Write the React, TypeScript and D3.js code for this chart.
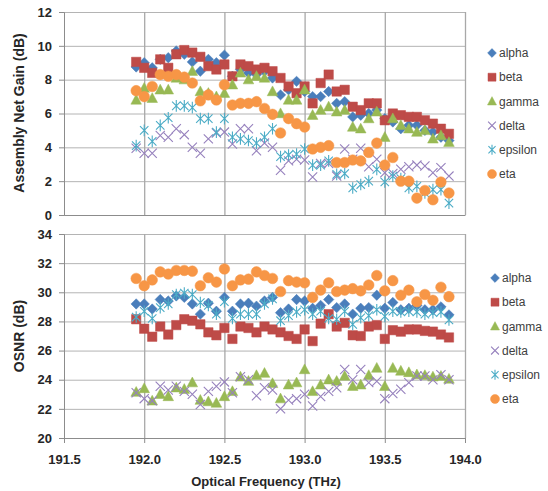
import React, { useEffect, useRef } from 'react';
import * as d3 from 'd3';

// channel frequencies (THz)
const freqs = [
  191.95, 192.0, 192.05, 192.1, 192.15, 192.2, 192.25, 192.3, 192.35, 192.4,
  192.45, 192.5, 192.55, 192.6, 192.65, 192.7, 192.75, 192.8, 192.85, 192.9,
  192.95, 193.0, 193.05, 193.1, 193.15, 193.2, 193.25, 193.3, 193.35, 193.4,
  193.45, 193.5, 193.55, 193.6, 193.65, 193.7, 193.75, 193.8, 193.85, 193.9,
];

const seriesNames = ['alpha', 'beta', 'gamma', 'delta', 'epsilon', 'eta'];
const freqTicks = [191.5, 192.0, 192.5, 193.0, 193.5, 194.0];
const gainTicks = [0, 2, 4, 6, 8, 10, 12];
const osnrTicks = [20, 22, 24, 26, 28, 30, 32, 34];

// assembly net gain (dB)
const gainAlpha = [8.75, 9.0, 8.7, 9.2, 9.3, 9.7, 9.5, 9.05, 8.5, 9.2, 9.0, 9.45, 8.2, 8.6, 8.4, 8.3, 8.5, 8.1, 7.1, 7.4, 7.9, 7.3, 7.0, 7.0, 7.3, 6.6, 6.7, 5.8, 5.9, 6.0, 6.2, 5.7, 5.5, 5.1, 5.3, 5.3, 5.0, 4.9, 4.6, 4.4];
const gainBeta = [9.05, 8.7, 8.4, 9.2, 8.7, 9.5, 9.75, 9.6, 9.35, 8.8, 8.6, 8.9, 8.2, 8.9, 8.8, 8.6, 8.7, 8.5, 8.1, 7.6, 7.2, 7.6, 6.6, 7.8, 8.3, 7.3, 7.4, 6.4, 6.2, 6.6, 6.6, 5.6, 6.0, 5.9, 5.8, 5.8, 5.6, 5.4, 5.1, 4.8];
const gainGamma = [6.8, 7.5, 6.9, 7.4, 7.4, 8.1, 8.0, 8.5, 7.3, 7.2, 7.0, 7.2, 7.7, 8.4, 8.0, 8.2, 8.1, 7.3, 6.0, 6.8, 6.8, 7.4, 5.9, 6.2, 6.4, 6.1, 6.2, 5.2, 5.1, 5.7, 6.1, 4.6, 5.7, 5.3, 5.1, 4.9, 5.0, 4.5, 4.7, 4.3];
const gainDelta = [3.95, 3.65, 3.65, 4.7, 4.6, 5.1, 4.75, 4.0, 3.65, 4.5, 4.85, 4.9, 4.2, 5.1, 5.1, 3.8, 4.25, 4.0, 2.65, 3.2, 3.3, 3.25, 2.25, 3.05, 3.05, 2.3, 3.9, 3.3, 3.95, 2.85, 3.3, 2.5, 2.45, 2.7, 2.85, 2.95, 2.9, 2.5, 2.8, 2.3];
const gainEpsilon = [4.1, 5.0, 4.35, 5.3, 5.75, 6.45, 6.45, 6.35, 5.7, 5.7, 4.9, 5.7, 4.6, 4.5, 4.4, 4.25, 4.6, 5.1, 3.45, 3.55, 3.6, 3.9, 2.95, 2.95, 3.2, 2.4, 2.45, 1.6, 1.8, 2.0, 2.7, 1.95, 2.3, 2.15, 1.6, 1.7, 1.3, 1.5, 1.5, 0.7];
const gainEta = [7.35, 7.0, 7.6, 8.3, 8.2, 8.3, 8.15, 7.8, 6.75, 7.1, 6.8, 7.7, 6.5, 6.6, 6.6, 6.7, 6.3, 5.95, 4.85, 5.7, 5.4, 5.2, 3.9, 4.0, 4.1, 3.1, 3.1, 3.25, 3.2, 3.7, 4.25, 2.95, 3.4, 2.0, 2.0, 1.0, 1.45, 0.9, 1.95, 1.3];

// OSNR (dB)
const osnrAlpha = [29.2, 29.2, 28.85, 29.5, 29.4, 29.75, 29.65, 29.2, 28.5, 29.25, 28.7, 29.65, 28.7, 29.2, 29.25, 29.05, 29.4, 29.65, 28.6, 28.85, 29.5, 29.4, 28.9, 29.1, 29.5, 28.95, 29.2, 28.5, 28.9, 28.95, 29.8, 28.9, 29.3, 28.8, 28.9, 29.1, 28.8, 28.8, 29.0, 28.45];
const osnrBeta = [28.15, 27.5, 26.95, 27.65, 27.1, 27.75, 28.15, 28.05, 27.8, 27.25, 27.05, 27.55, 26.8, 27.65, 27.55, 27.25, 27.65, 27.45, 27.25, 27.0, 26.8, 27.45, 26.65, 27.85, 28.5, 27.65, 27.9, 27.05, 27.0, 27.65, 27.75, 26.8, 27.4, 27.3, 27.45, 27.45, 27.35, 27.3, 27.1, 26.9];
const osnrGamma = [23.15, 23.4, 22.55, 23.0, 22.85, 23.45, 23.35, 23.8, 22.6, 22.5, 22.4, 22.85, 23.2, 24.2, 23.9, 24.3, 24.45, 23.75, 22.7, 23.65, 23.8, 24.7, 23.2, 23.65, 24.0, 23.9, 24.25, 23.55, 23.65, 24.3, 24.8, 23.55, 24.8, 24.6, 24.5, 24.35, 24.3, 24.2, 24.25, 24.05];
const osnrDelta = [23.1, 22.7, 22.55, 23.55, 23.3, 23.55, 23.2, 23.0, 22.3, 23.2, 23.55, 23.85, 23.1, 24.2, 24.0, 22.9, 23.45, 23.3, 22.0, 22.6, 22.7, 23.0, 22.2, 22.85, 23.2, 23.45, 24.7, 24.0, 24.7, 23.8, 23.9, 22.7, 23.05, 23.35, 23.8, 24.25, 24.25, 24.0, 24.35, 24.0];
const osnrEpsilon = [28.3, 28.7, 28.2, 28.95, 29.2, 29.85, 29.95, 29.85, 29.3, 29.1, 28.5, 29.35, 28.2, 28.5, 28.5, 28.5, 29.2, 29.55, 28.05, 28.4, 28.65, 28.8, 28.5, 28.7, 28.2, 28.15, 28.7, 27.8, 28.25, 28.4, 28.8, 28.35, 28.7, 28.65, 28.7, 28.65, 28.5, 28.6, 28.65, 28.1];
const osnrEta = [30.95, 30.45, 30.85, 31.4, 31.25, 31.5, 31.5, 31.45, 30.45, 31.0, 30.7, 31.6, 30.45, 30.85, 30.9, 31.4, 31.15, 30.95, 30.05, 30.8, 30.7, 30.65, 29.65, 30.15, 30.65, 30.05, 30.15, 30.25, 30.1, 30.5, 31.15, 30.1, 30.8, 29.8, 30.15, 29.35, 29.85, 29.45, 30.35, 29.7];

const colors = ['#4a7ebb', '#be4b48', '#98b954', '#9681bd', '#4bacc6', '#f79646'];
const shapes = ['diamond', 'square', 'triangle', 'x', 'star', 'circle'];

const FONT = '"Liberation Sans", Arial, sans-serif';

function markerPath(kind: string, k = 1): string {
  if (kind === 'diamond') {
    const r = 5.2 * k;
    return `M0,${-r}L${r},0L0,${r}L${-r},0Z`;
  }
  if (kind === 'square') {
    const h = 4.7 * k;
    return `M${-h},${-h}H${h}V${h}H${-h}Z`;
  }
  if (kind === 'triangle') {
    return `M0,${-5.6 * k}L${5.3 * k},${4.2 * k}L${-5.3 * k},${4.2 * k}Z`;
  }
  if (kind === 'x') {
    const h = 4.6 * k;
    return `M${-h},${-h}L${h},${h}M${-h},${h}L${h},${-h}`;
  }
  if (kind === 'star') {
    const h = 4.2 * k;
    return `M${-h},${-h}L${h},${h}M${-h},${h}L${h},${-h}M0,${-5.8 * k}V${5.8 * k}`;
  }
  return d3.symbol(d3.symbolCircle, Math.PI * 5.3 * 5.3 * k * k)() as string;
}

const left = 64;
const right = 465;

const panels = [
  {
    top: 12, bottom: 215, domain: [0, 12], ticks: gainTicks,
    title: 'Assembly Net Gain (dB)', titleY: 113,
    data: [gainAlpha, gainBeta, gainGamma, gainDelta, gainEpsilon, gainEta],
    legendX: 492, legendY: 53, showX: false,
  },
  {
    top: 234, bottom: 438, domain: [20, 34], ticks: osnrTicks,
    title: 'OSNR (dB)', titleY: 336,
    data: [osnrAlpha, osnrBeta, osnrGamma, osnrDelta, osnrEpsilon, osnrEta],
    legendX: 495, legendY: 278, showX: true,
  },
];

const App = () => {
  const ref = useRef<SVGSVGElement>(null);

  useEffect(() => {
    const svg = d3.select(ref.current);
    svg.selectAll('*').remove();

    const x = d3.scaleLinear().domain([191.5, 194.0]).range([left, right]);

    panels.forEach(p => {
      const y = d3.scaleLinear().domain(p.domain).range([p.bottom, p.top]);
      const g = svg.append('g');

      // horizontal grid
      g.append('g')
        .attr('transform', `translate(${left},0)`)
        .call(d3.axisLeft(y).tickValues(p.ticks).tickSize(-(right - left)).tickFormat(() => ''))
        .call(s => s.select('.domain').remove())
        .selectAll('line')
        .attr('stroke', '#b4b4b4');

      // vertical grid
      g.append('g')
        .attr('transform', `translate(0,${p.bottom})`)
        .call(d3.axisBottom(x).tickValues(freqTicks.slice(1)).tickSize(-(p.bottom - p.top)).tickFormat(() => ''))
        .call(s => s.select('.domain').remove())
        .selectAll('line')
        .attr('stroke', '#a8a8a8')
        .attr('stroke-width', 1.3);

      // y axis
      const ya = g.append('g')
        .attr('transform', `translate(${left},0)`)
        .call(d3.axisLeft(y).tickValues(p.ticks).tickSize(5).tickPadding(7));
      ya.select('.domain').attr('stroke', '#8c8c8c');
      ya.selectAll('line').attr('stroke', '#8c8c8c');
      ya.selectAll('text')
        .attr('font-family', FONT)
        .attr('font-size', 13)
        .attr('font-weight', 'bold')
        .attr('fill', '#262626');

      // x axis line
      const xa = g.append('g')
        .attr('transform', `translate(0,${p.bottom})`)
        .call(
          d3.axisBottom(x)
            .tickValues(freqTicks)
            .tickSize(p.showX ? 5 : 0)
            .tickPadding(12)
            .tickFormat(p.showX ? (d => d3.format('.1f')(d as number)) : () => '')
        );
      xa.select('.domain').attr('stroke', '#8c8c8c');
      xa.selectAll('line').attr('stroke', '#8c8c8c');
      xa.selectAll('text')
        .attr('font-family', FONT)
        .attr('font-size', 13)
        .attr('font-weight', 'bold')
        .attr('fill', '#262626');

      // y title
      g.append('text')
        .attr('transform', `translate(24,${p.titleY}) rotate(-90)`)
        .attr('text-anchor', 'middle')
        .attr('font-family', FONT)
        .attr('font-size', 14)
        .attr('font-weight', 'bold')
        .attr('fill', '#262626')
        .text(p.title);

      // points
      p.data.forEach((vals, si) => {
        const filled = shapes[si] !== 'x' && shapes[si] !== 'star';
        g.append('g')
          .selectAll('path')
          .data(vals)
          .enter()
          .append('path')
          .attr('transform', (v, i) => `translate(${x(freqs[i])},${y(v)})`)
          .attr('d', markerPath(shapes[si]))
          .attr('fill', filled ? colors[si] : 'none')
          .attr('stroke', colors[si])
          .attr('stroke-width', filled ? 0.5 : 1.1);
      });

      // legend
      const lg = g.append('g');
      seriesNames.forEach((name, si) => {
        const filled = shapes[si] !== 'x' && shapes[si] !== 'star';
        const ly = p.legendY + si * 24.2;
        lg.append('path')
          .attr('transform', `translate(${p.legendX},${ly})`)
          .attr('d', markerPath(shapes[si], 0.85))
          .attr('fill', filled ? colors[si] : 'none')
          .attr('stroke', colors[si])
          .attr('stroke-width', filled ? 0.5 : 1.1);
        lg.append('text')
          .attr('x', p.legendX + 7)
          .attr('y', ly)
          .attr('dy', '0.35em')
          .attr('font-family', FONT)
          .attr('font-size', 12)
          .attr('fill', '#404040')
          .text(name);
      });
    });

    svg.append('text')
      .attr('x', 266)
      .attr('y', 486)
      .attr('text-anchor', 'middle')
      .attr('font-family', FONT)
      .attr('font-size', 13)
      .attr('font-weight', 'bold')
      .attr('fill', '#262626')
      .text('Optical Frequency (THz)');
  }, []);

  return (
    <svg
      ref={ref}
      width={548}
      height={491}
      style={{ position: 'absolute', left: 0, top: 0, background: '#fff' }}
    />
  );
};

export default App;
